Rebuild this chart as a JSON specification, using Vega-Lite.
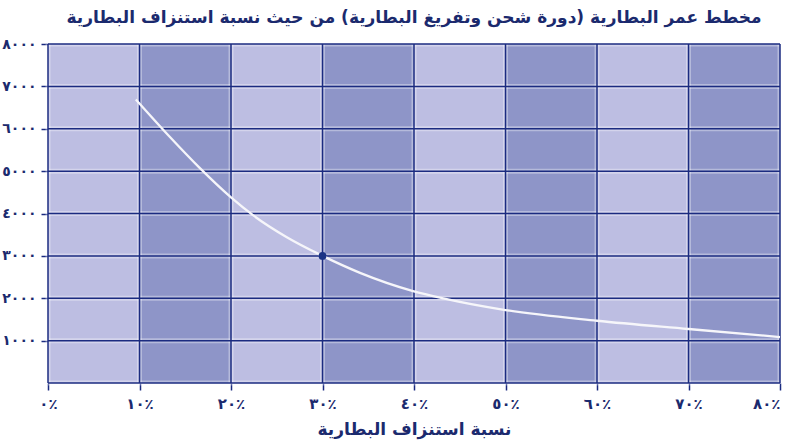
{
  "$schema": "https://vega.github.io/schema/vega-lite/v6.json",
  "width": 732,
  "height": 339,
  "autosize": {"type": "none"},
  "padding": {"left": 48, "top": 44, "right": 5, "bottom": 63},
  "background": "#ffffff",
  "view": {"stroke": null},
  "title": {
    "text": "مخطط عمر البطارية (دورة شحن وتفريغ البطارية) من حيث نسبة استنزاف البطارية",
    "font": "DejaVu Sans",
    "fontSize": 17,
    "fontWeight": "bold",
    "color": "#1b2a6e",
    "anchor": "middle",
    "offset": 10
  },
  "datasets": {
    "bands": [
      {"x0": 0, "x1": 10, "shade": "light"},
      {"x0": 10, "x1": 20, "shade": "dark"},
      {"x0": 20, "x1": 30, "shade": "light"},
      {"x0": 30, "x1": 40, "shade": "dark"},
      {"x0": 40, "x1": 50, "shade": "light"},
      {"x0": 50, "x1": 60, "shade": "dark"},
      {"x0": 60, "x1": 70, "shade": "light"},
      {"x0": 70, "x1": 80, "shade": "dark"}
    ],
    "vgrid": [{"v": 0}, {"v": 10}, {"v": 20}, {"v": 30}, {"v": 40}, {"v": 50}, {"v": 60}, {"v": 70}, {"v": 80}],
    "hgrid": [{"h": 0}, {"h": 1000}, {"h": 2000}, {"h": 3000}, {"h": 4000}, {"h": 5000}, {"h": 6000}, {"h": 7000}, {"h": 8000}],
    "curve": [
      {"drain": 9.6, "cycles": 6690},
      {"drain": 13.3, "cycles": 5810},
      {"drain": 16.6, "cycles": 5070},
      {"drain": 20, "cycles": 4380},
      {"drain": 22.4, "cycles": 3960},
      {"drain": 26.1, "cycles": 3440},
      {"drain": 30, "cycles": 3000},
      {"drain": 34.1, "cycles": 2600},
      {"drain": 39.9, "cycles": 2170},
      {"drain": 43.2, "cycles": 1998},
      {"drain": 50, "cycles": 1722},
      {"drain": 60, "cycles": 1469},
      {"drain": 70, "cycles": 1274},
      {"drain": 80, "cycles": 1085}
    ],
    "point": [{"drain": 30, "cycles": 3000}]
  },
  "layer": [
    {
      "data": {"name": "bands"},
      "mark": {"type": "rect"},
      "encoding": {
        "x": {
          "field": "x0", "type": "quantitative",
          "scale": {"domain": [0, 80], "nice": false, "zero": false},
          "axis": {
            "values": [0, 10, 20, 30, 40, 50, 60, 70, 80],
            "labelExpr": "replace(replace(replace(replace(replace(replace(replace(replace(replace(replace(datum.value + '٪', regexp('0','g'),'٠'), regexp('1','g'),'١'), regexp('2','g'),'٢'), regexp('3','g'),'٣'), regexp('4','g'),'٤'), regexp('5','g'),'٥'), regexp('6','g'),'٦'), regexp('7','g'),'٧'), regexp('8','g'),'٨'), regexp('9','g'),'٩')",
            "labelAlign": {"expr": "datum.value == 80 ? 'right' : 'center'"},
            "title": "نسبة استنزاف البطارية",
            "grid": false,
            "domain": false,
            "tickColor": "#1b2b80",
            "tickWidth": 1.5,
            "tickSize": 7,
            "labelFont": "DejaVu Sans",
            "labelFontSize": 15,
            "labelFontWeight": "bold",
            "labelColor": "#1b2a6e",
            "labelPadding": 6,
            "labelFlush": false,
            "titleFont": "DejaVu Sans",
            "titleFontSize": 17,
            "titleFontWeight": "bold",
            "titleColor": "#1b2a6e",
            "titlePadding": 10
          }
        },
        "x2": {"field": "x1"},
        "color": {
          "field": "shade", "type": "nominal",
          "scale": {"domain": ["light", "dark"], "range": ["#bdbee2", "#8e95c8"]},
          "legend": null
        }
      }
    },
    {
      "data": {"name": "hgrid"},
      "mark": {"type": "rule", "color": "#ffffff", "strokeWidth": 5, "opacity": 0.35},
      "encoding": {
        "y": {
          "field": "h", "type": "quantitative",
          "scale": {"domain": [0, 8000], "nice": false},
          "axis": {
            "values": [1000, 2000, 3000, 4000, 5000, 6000, 7000, 8000],
            "labelExpr": "replace(replace(replace(replace(replace(replace(replace(replace(replace(replace(datum.value + '', regexp('0','g'),'٠'), regexp('1','g'),'١'), regexp('2','g'),'٢'), regexp('3','g'),'٣'), regexp('4','g'),'٤'), regexp('5','g'),'٥'), regexp('6','g'),'٦'), regexp('7','g'),'٧'), regexp('8','g'),'٨'), regexp('9','g'),'٩')",
            "title": null,
            "grid": false,
            "domain": false,
            "tickColor": "#1b2b80",
            "tickWidth": 1.5,
            "tickSize": 7,
            "labelFont": "DejaVu Sans",
            "labelFontSize": 14,
            "labelFontWeight": "bold",
            "labelColor": "#1b2a6e",
            "labelPadding": 5,
            "labelFlush": false
          }
        }
      }
    },
    {
      "data": {"name": "vgrid"},
      "mark": {"type": "rule", "color": "#ffffff", "strokeWidth": 5, "opacity": 0.35},
      "encoding": {"x": {"field": "v", "type": "quantitative"}}
    },
    {
      "data": {"name": "hgrid"},
      "mark": {"type": "rule", "color": "#1b2b80", "strokeWidth": 1.5},
      "encoding": {"y": {"field": "h", "type": "quantitative"}}
    },
    {
      "data": {"name": "vgrid"},
      "mark": {"type": "rule", "color": "#1b2b80", "strokeWidth": 1.5},
      "encoding": {"x": {"field": "v", "type": "quantitative"}}
    },
    {
      "data": {"name": "curve"},
      "mark": {"type": "line", "color": "#f6f6fa", "strokeWidth": 2.3, "interpolate": "monotone"},
      "encoding": {
        "x": {"field": "drain", "type": "quantitative"},
        "y": {"field": "cycles", "type": "quantitative"}
      }
    },
    {
      "data": {"name": "point"},
      "mark": {"type": "point", "filled": true, "color": "#1a3385", "size": 60, "opacity": 1},
      "encoding": {
        "x": {"field": "drain", "type": "quantitative"},
        "y": {"field": "cycles", "type": "quantitative"}
      }
    }
  ]
}
